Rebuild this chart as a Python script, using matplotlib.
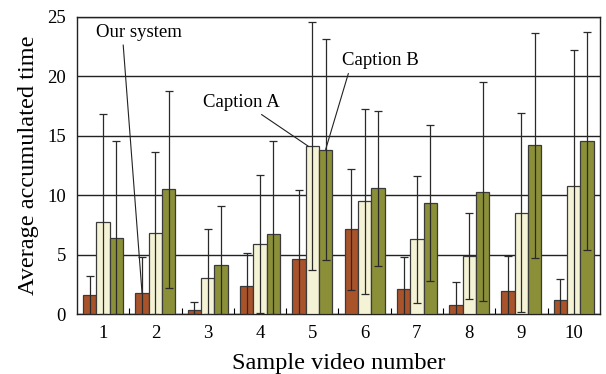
import numpy as np
import matplotlib
matplotlib.use("Agg")
import matplotlib.pyplot as plt

plt.rcParams['font.family'] = ['Liberation Serif', 'DejaVu Serif']

# data
videos = [1, 2, 3, 4, 5, 6, 7, 8, 9, 10]
ours_mean = [1.63, 1.74, 0.39, 2.36, 4.60, 7.13, 2.08, 0.81, 1.91, 1.15]
ours_std = [1.60, 3.03, 0.65, 2.78, 5.82, 5.10, 2.70, 1.90, 2.95, 1.77]
capA_mean = [7.72, 6.82, 3.00, 5.90, 14.13, 9.49, 6.29, 4.89, 8.51, 10.81]
capA_std = [9.07, 6.80, 4.19, 5.78, 10.40, 7.80, 5.32, 3.65, 8.37, 11.37]
capB_mean = [6.37, 10.50, 4.16, 6.71, 13.84, 10.59, 9.32, 10.31, 14.21, 14.55]
capB_std = [8.18, 8.30, 4.97, 7.84, 9.30, 6.50, 6.57, 9.20, 9.45, 9.15]

colors = ['#a9532a', '#f5f3d6', '#8b8f38']

fig, ax = plt.subplots(figsize=(6.06, 3.74), dpi=100)
fig.subplots_adjust(left=0.127, right=0.99, top=0.955, bottom=0.16)

x = np.array(videos)
w = 0.255
series = [(ours_mean, ours_std), (capA_mean, capA_std), (capB_mean, capB_std)]
for i, (m, s) in enumerate(series):
    m = np.array(m)
    s = np.array(s)
    # error bars are cut off at zero
    lower = np.minimum(s, m)
    ax.bar(x + (i - 1) * w, m, width=w, color=colors[i], edgecolor='#3a3a3a',
           linewidth=0.9, zorder=3)
    ax.errorbar(x + (i - 1) * w, m, yerr=[lower, s], fmt='none', ecolor='#2a2a2a',
                elinewidth=0.9, capsize=3, capthick=0.9, zorder=4)

ax.set_xlim(0.5, 10.5)
ax.set_ylim(0, 25)
ax.set_yticks([0, 5, 10, 15, 20, 25])
ax.set_xticks(x)
ax.set_xticks(np.arange(1.5, 10.5, 1), minor=True)
ax.tick_params(axis='x', which='major', length=0, labelsize=13.5, pad=8)
ax.tick_params(axis='x', which='minor', direction='in', length=4, width=0.8)
ax.tick_params(axis='y', length=0, labelsize=13.5, pad=8)
ax.grid(axis='y', color='#222222', linewidth=1.0, zorder=0)
for sp in ax.spines.values():
    sp.set_color('#222222')
    sp.set_linewidth(1.0)

ax.set_xlabel('Sample video number', fontsize=17.5, labelpad=8)
ax.set_ylabel('Average accumulated time', fontsize=17.5, labelpad=6)

def arrow(rx):
    return dict(arrowstyle='-', color='#222222', lw=0.8, relpos=(rx, 0),
                shrinkA=1, shrinkB=0)

ax.annotate('Our system', xy=(2 - w, ours_mean[1]), xytext=(1.69, 23.7),
            ha='center', va='center', fontsize=13.5, arrowprops=arrow(0.31))
ax.annotate('Caption A', xy=(5 - 0.08, capA_mean[4]), xytext=(3.65, 17.8),
            ha='center', va='center', fontsize=13.5, arrowprops=arrow(0.69))
ax.annotate('Caption B', xy=(5 + w, capB_mean[4]), xytext=(6.3, 21.3),
            ha='center', va='center', fontsize=13.5, arrowprops=arrow(0.1))

fig.savefig('out.png', dpi=100)
